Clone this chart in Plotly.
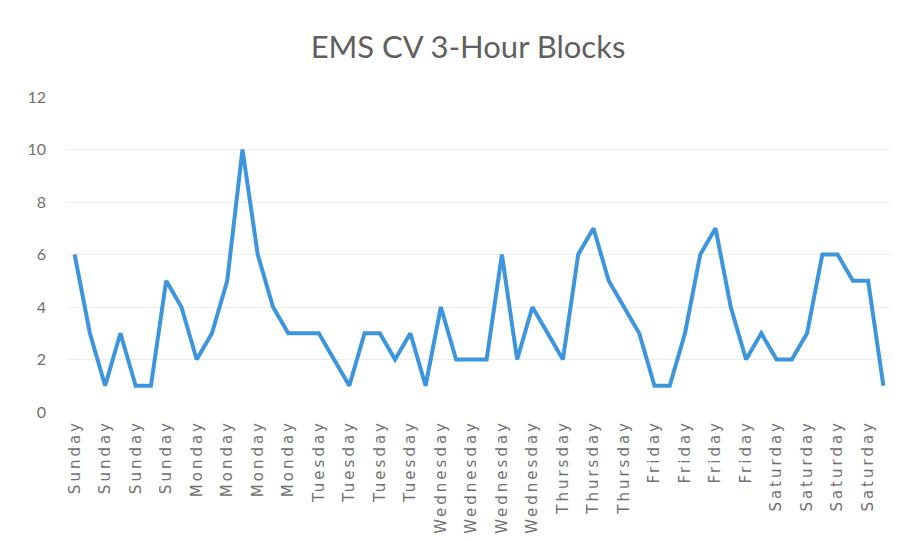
import plotly.graph_objects as go

# 3-hour block labels (8 blocks per day; Thursday has 6 recorded blocks)
days = (["Sunday"] * 8 + ["Monday"] * 8 + ["Tuesday"] * 8 + ["Wednesday"] * 8
        + ["Thursday"] * 6 + ["Friday"] * 8 + ["Saturday"] * 8)

calls = [6, 3, 1, 3, 1, 1, 5, 4,
         2, 3, 5, 10, 6, 4, 3, 3,
         3, 2, 1, 3, 3, 2, 3, 1,
         4, 2, 2, 2, 6, 2, 4, 3,
         2, 6, 7, 5, 4, 3,
         1, 1, 3, 6, 7, 4, 2, 3,
         2, 2, 3, 6, 6, 5, 5, 1]

y_ticks = [0, 2, 4, 6, 8, 10, 12]

x = list(range(len(calls)))
tick_idx = x[::2]
tick_txt = ['<span style="letter-spacing:3px">%s</span>' % days[i] for i in tick_idx]

fig = go.Figure()
fig.add_trace(go.Scatter(
    x=x, y=calls, mode="lines",
    line=dict(color="#3d95dd", width=4),
    hoverinfo="y", showlegend=False,
))

fig.update_layout(
    width=908, height=541,
    paper_bgcolor="white", plot_bgcolor="white",
    margin=dict(l=59, r=25, t=89, b=137),
    title=dict(text="EMS CV 3-Hour Blocks", x=0.5066, xanchor="center",
               y=0.928, yanchor="middle",
               font=dict(family="Lato, Open Sans, sans-serif", size=31, color="#606060")),
    font=dict(family="Lato, Open Sans, sans-serif", color="#707070"),
)
fig.update_xaxes(
    range=[-0.5, len(calls) - 0.5],
    tickmode="array", tickvals=tick_idx, ticktext=tick_txt,
    tickangle=-90, tickfont=dict(family="DejaVu Sans", size=15, color="#707070"),
    showgrid=False, zeroline=False, showline=False, ticks="", ticklabelstandoff=4,
)
fig.update_yaxes(
    range=[0, 12], tickmode="array", tickvals=y_ticks,
    tickfont=dict(size=16, color="#707070"),
    showgrid=True, gridcolor="#ececec", gridwidth=1,
    zeroline=False, showline=False, ticks="", ticklabelstandoff=20,
)

fig.write_html("out.html")
